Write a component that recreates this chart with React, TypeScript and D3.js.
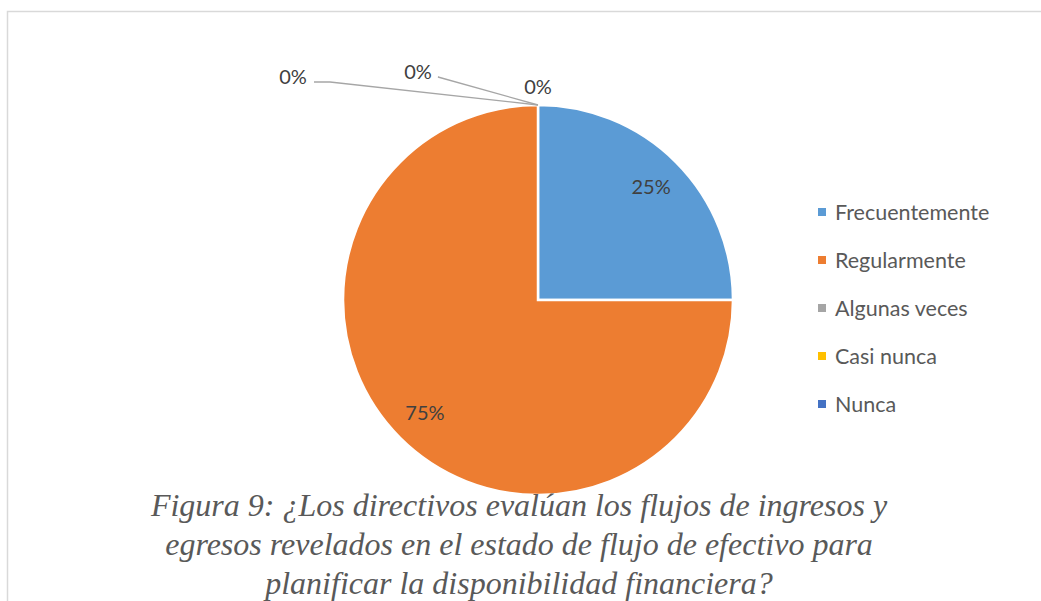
import { useRef, useEffect } from 'react';
import * as d3 from 'd3';

const categories = ['Frecuentemente', 'Regularmente', 'Algunas veces', 'Casi nunca', 'Nunca'];
const values = [1, 3, 0, 0, 0];
const colors = ['#5b9bd5', '#ed7d31', '#a5a5a5', '#ffc000', '#4472c4'];
const captionLines = [
  'Figura 9: ¿Los directivos evalúan los flujos de ingresos y',
  'egresos revelados en el estado de flujo de efectivo para',
  'planificar la disponibilidad financiera?',
];

export default function App() {
  const svgRef = useRef<SVGSVGElement>(null);

  useEffect(() => {
    const svg = d3.select(svgRef.current);
    svg.selectAll('*').remove();

    const W = 1041, H = 601;
    const cx = 538, cy = 300, r = 195;
    const font = 'Lato, "Open Sans", sans-serif';

    // chart frame (only top and left edges are visible)
    svg.append('path')
      .attr('d', `M7.5,${H} V11.5 H${W}`)
      .attr('fill', 'none')
      .attr('stroke', '#d9d9d9')
      .attr('stroke-width', 1.5);

    const total = d3.sum(values);
    const data = categories.map((c, i) => ({ name: c, value: values[i], color: colors[i] }));
    const pie = d3.pie<any>().sort(null).value(d => d.value);
    const arcs = pie(data);
    const arc = d3.arc<any>().innerRadius(0).outerRadius(r);
    const labelArc = d3.arc<any>().innerRadius(r * 0.82).outerRadius(r * 0.82);

    const g = svg.append('g').attr('transform', `translate(${cx},${cy})`);

    g.selectAll('path.slice')
      .data(arcs.filter(a => a.value > 0))
      .enter()
      .append('path')
      .attr('class', 'slice')
      .attr('d', arc)
      .attr('fill', d => d.data.color)
      .attr('stroke', '#fff')
      .attr('stroke-width', 2.5);

    const pct = (v: number) => `${Math.round((v / total) * 100)}%`;

    // labels inside non-zero slices
    g.selectAll('text.inlabel')
      .data(arcs.filter(a => a.value > 0))
      .enter()
      .append('text')
      .attr('class', 'inlabel')
      .attr('transform', d => `translate(${labelArc.centroid(d)})`)
      .attr('text-anchor', 'middle')
      .attr('dy', '0.35em')
      .style('font-family', font)
      .style('font-size', '20px')
      .style('fill', '#404040')
      .text(d => pct(d.value));

    // zero slices: labels pushed outside with leader lines
    const zeroArcs = arcs.filter(a => a.value === 0);
    const outPos = [
      { x: -245, y: -223, elbow: -208 },
      { x: -120, y: -228, elbow: -100 },
      { x: 0, y: -213, elbow: null },
    ];
    zeroArcs.forEach((d, i) => {
      const p = outPos[i];
      const [ax, ay] = [Math.sin(d.startAngle) * r, -Math.cos(d.startAngle) * r];
      if (p.elbow !== null) {
        const lx = p.x + 21;
        const ly = p.y + 5;
        g.append('path')
          .attr('d', `M${lx},${ly} H${p.elbow} L${ax},${ay}`)
          .attr('fill', 'none')
          .attr('stroke', '#a6a6a6')
          .attr('stroke-width', 1.3);
      }
      g.append('text')
        .attr('x', p.x)
        .attr('y', p.y)
        .attr('text-anchor', 'middle')
        .attr('dy', '0.35em')
        .style('font-family', font)
        .style('font-size', '20px')
        .style('fill', '#404040')
        .text(pct(d.value));
    });

    // legend
    const legend = svg.append('g').attr('transform', 'translate(818, 212)');
    data.forEach((d, i) => {
      const row = legend.append('g').attr('transform', `translate(0, ${i * 48})`);
      row.append('rect')
        .attr('x', 0)
        .attr('y', -4)
        .attr('width', 8)
        .attr('height', 8)
        .attr('fill', d.color);
      row.append('text')
        .attr('x', 17)
        .attr('dy', '0.35em')
        .style('font-family', font)
        .style('font-size', '21.5px')
        .style('fill', '#595959')
        .text(d.name);
    });

    // caption
    svg.append('g')
      .selectAll('text')
      .data(captionLines)
      .enter()
      .append('text')
      .attr('x', 519)
      .attr('y', (d, i) => 516 + i * 39)
      .attr('text-anchor', 'middle')
      .style('font-family', '"Liberation Serif", "Times New Roman", serif')
      .style('font-style', 'italic')
      .style('font-size', '32px')
      .style('fill', '#595959')
      .text(d => d);
  }, []);

  return (
    <svg
      ref={svgRef}
      width={1041}
      height={601}
      style={{ position: 'absolute', left: 0, top: 0, background: '#fff' }}
    />
  );
}
